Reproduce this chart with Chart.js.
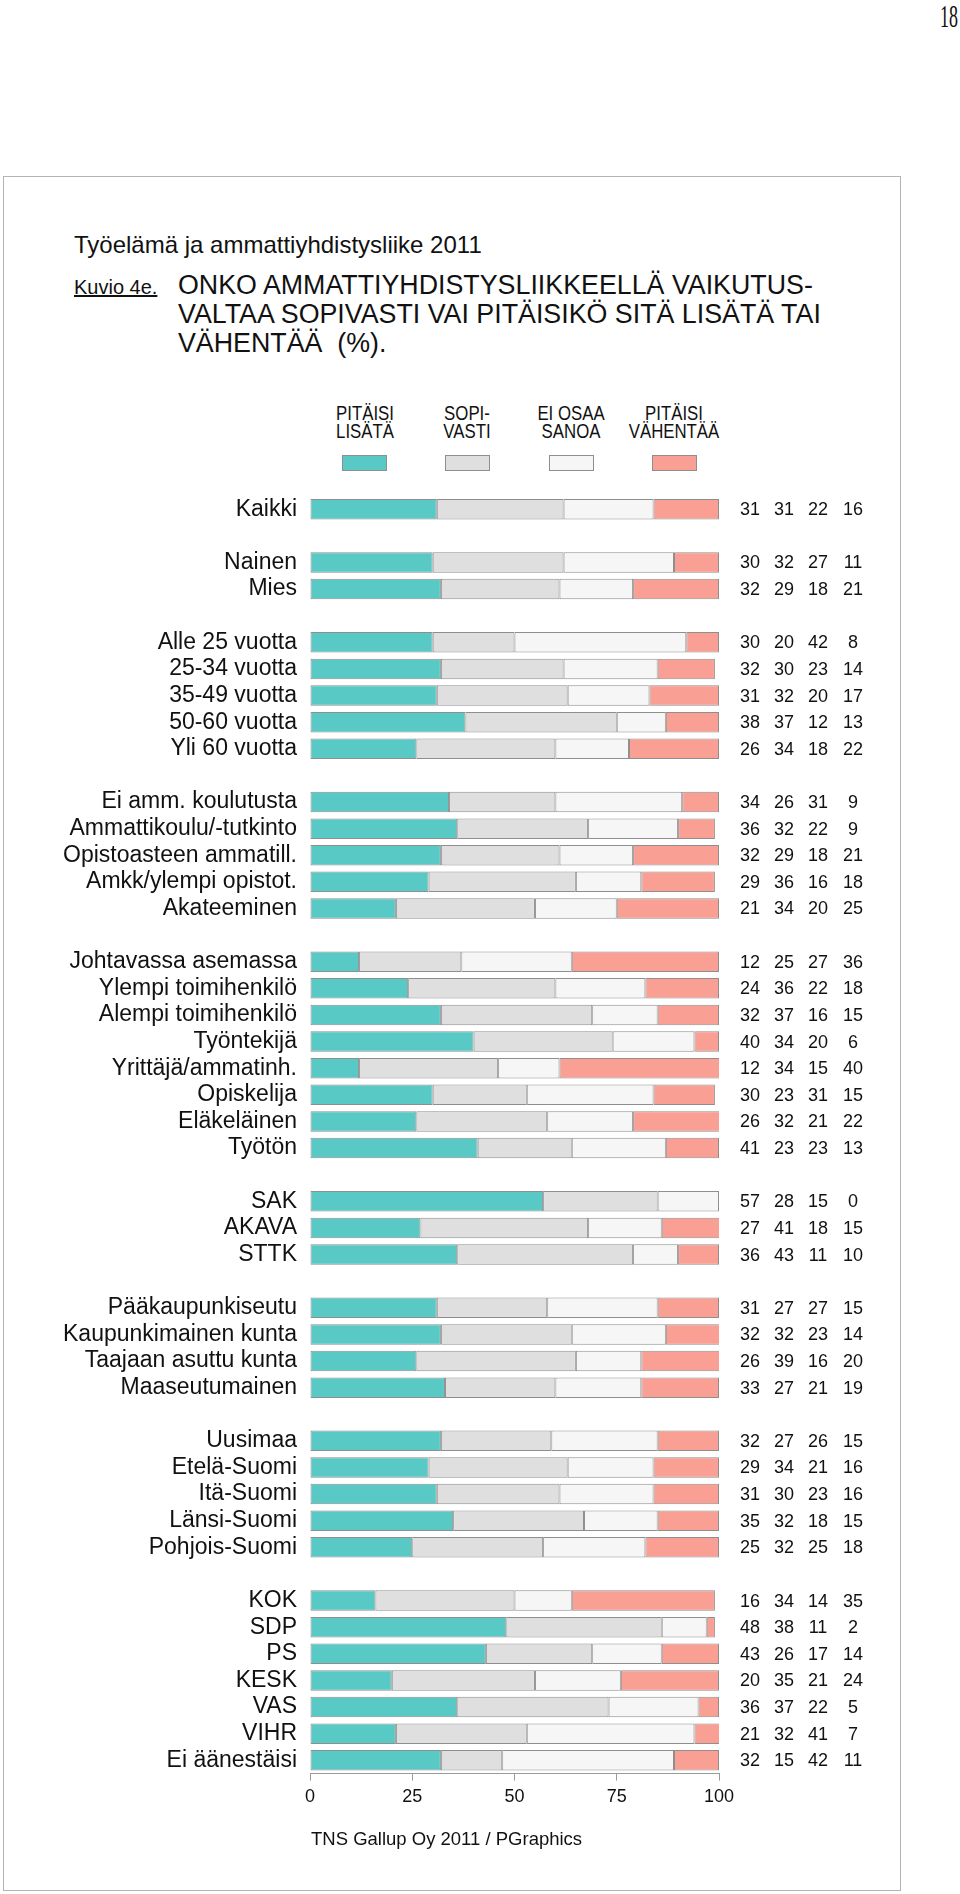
<!DOCTYPE html>
<html>
<head>
<meta charset="utf-8">
<script src="https://cdn.jsdelivr.net/npm/chart.js@4.4.1/dist/chart.umd.min.js"></script>
<style>
  html, body { margin:0; padding:0; background:#fff; }
  body { width:960px; height:1894px; position:relative; overflow:hidden;
         font-family:'Liberation Sans', Arial, Helvetica, sans-serif; color:#111; }
  .abs { position:absolute; white-space:nowrap; }
  #frame { position:absolute; left:3px; top:176px; width:896px; height:1713px; border:1px solid #b4b4b4; }
  #chartWrap { position:absolute; left:0; top:0; width:960px; height:1894px; }
  .leg { position:absolute; text-align:center; font-size:20px; line-height:18.3px; transform:scaleX(0.84); white-space:nowrap; }
  .sw { position:absolute; width:43px; height:14px; border:1px solid #8e8e8e; }
</style>
</head>
<body>
<div id="frame"></div>
<div class="abs" style="right:2px; top:1px; font-family:'Liberation Serif','Times New Roman',serif; font-size:31px; line-height:31px; transform:scaleX(0.58); transform-origin:right;">18</div>
<div class="abs" style="left:74px; top:233px; font-size:24px; line-height:23.5px;">Työelämä ja ammattiyhdistysliike 2011</div>
<div class="abs" style="left:74px; top:277px; font-size:20px; line-height:20px; text-decoration:underline;">Kuvio 4e.</div>
<div class="abs" style="left:178px; top:271px; font-size:26.8px; line-height:28.85px;">ONKO AMMATTIYHDISTYSLIIKKEELLÄ VAIKUTUS-<br>VALTAA SOPIVASTI VAI PITÄISIKÖ SITÄ LISÄTÄ TAI<br>VÄHENTÄÄ&nbsp; (%).</div>
<div id="legend"></div>
<div id="chartWrap"><canvas id="c" width="960" height="1894"></canvas></div>
<div class="abs" style="left:311px; top:1830px; font-size:18.5px; line-height:18.5px;">TNS Gallup Oy 2011 / PGraphics</div>
<script>
// ---- DATA ----
const categories = [
  'Kaikki', '',
  'Nainen', 'Mies', '',
  'Alle 25 vuotta', '25-34 vuotta', '35-49 vuotta', '50-60 vuotta', 'Yli 60 vuotta', '',
  'Ei amm. koulutusta', 'Ammattikoulu/-tutkinto', 'Opistoasteen ammatill.', 'Amkk/ylempi opistot.', 'Akateeminen', '',
  'Johtavassa asemassa', 'Ylempi toimihenkilö', 'Alempi toimihenkilö', 'Työntekijä', 'Yrittäjä/ammatinh.', 'Opiskelija', 'Eläkeläinen', 'Työtön', '',
  'SAK', 'AKAVA', 'STTK', '',
  'Pääkaupunkiseutu', 'Kaupunkimainen kunta', 'Taajaan asuttu kunta', 'Maaseutumainen', '',
  'Uusimaa', 'Etelä-Suomi', 'Itä-Suomi', 'Länsi-Suomi', 'Pohjois-Suomi', '',
  'KOK', 'SDP', 'PS', 'KESK', 'VAS', 'VIHR', 'Ei äänestäisi'
];
const pitaisiLisata = [
  31, null,
  30, 32, null,
  30, 32, 31, 38, 26, null,
  34, 36, 32, 29, 21, null,
  12, 24, 32, 40, 12, 30, 26, 41, null,
  57, 27, 36, null,
  31, 32, 26, 33, null,
  32, 29, 31, 35, 25, null,
  16, 48, 43, 20, 36, 21, 32
];
const sopivasti = [
  31, null,
  32, 29, null,
  20, 30, 32, 37, 34, null,
  26, 32, 29, 36, 34, null,
  25, 36, 37, 34, 34, 23, 32, 23, null,
  28, 41, 43, null,
  27, 32, 39, 27, null,
  27, 34, 30, 32, 32, null,
  34, 38, 26, 35, 37, 32, 15
];
const eiOsaaSanoa = [
  22, null,
  27, 18, null,
  42, 23, 20, 12, 18, null,
  31, 22, 18, 16, 20, null,
  27, 22, 16, 20, 15, 31, 21, 23, null,
  15, 18, 11, null,
  27, 23, 16, 21, null,
  26, 21, 23, 18, 25, null,
  14, 11, 17, 21, 22, 41, 42
];
const pitaisiVahentaa = [
  16, null,
  11, 21, null,
  8, 14, 17, 13, 22, null,
  9, 9, 21, 18, 25, null,
  36, 18, 15, 6, 40, 15, 22, 13, null,
  0, 15, 10, null,
  15, 14, 20, 19, null,
  15, 16, 16, 15, 18, null,
  35, 2, 14, 24, 5, 7, 11
];
const seriesNames = [['PITÄISI', 'LISÄTÄ'], ['SOPI-', 'VASTI'], ['EI OSAA', 'SANOA'], ['PITÄISI', 'VÄHENTÄÄ']];
const seriesColors = ['#58c9c5', '#dfdfdf', '#f6f6f6', '#fa9f93'];
const xTicks = [0, 25, 50, 75, 100];

// ---- LEGEND (HTML) ----
const legendCenters = [364.5, 467, 571, 674];
const legendEl = document.getElementById('legend');
seriesNames.forEach((lines, i) => {
  const t = document.createElement('div');
  t.className = 'leg';
  t.style.left = (legendCenters[i] - 60) + 'px';
  t.style.width = '120px';
  t.style.top = '403.5px';
  t.innerHTML = lines.join('<br>');
  legendEl.appendChild(t);
  const s = document.createElement('div');
  s.className = 'sw';
  s.style.left = (legendCenters[i] - 22.5) + 'px';
  s.style.top = '455px';
  s.style.background = seriesColors[i];
  legendEl.appendChild(s);
});

// ---- CHART ----
Chart.defaults.font.family = "'Liberation Sans', Arial, Helvetica, sans-serif";
Chart.defaults.color = '#111';

const allSeries = [pitaisiLisata, sopivasti, eiOsaaSanoa, pitaisiVahentaa];
const datasets = allSeries.map((arr, i) => ({
  label: seriesNames[i].join(' '),
  data: arr,
  backgroundColor: seriesColors[i],
  borderColor: '#8e8e8e',
  borderWidth: 1,
  borderSkipped: false,
  barPercentage: 0.77,
  categoryPercentage: 1.0
}));

const valueColumns = {
  id: 'valueColumns',
  afterDatasetsDraw(chart) {
    const ctx = chart.ctx;
    const y = chart.scales.y;
    const xs = [750, 784, 818, 853];
    ctx.save();
    ctx.font = "18px 'Liberation Sans', Arial, Helvetica, sans-serif";
    ctx.fillStyle = '#111';
    ctx.textAlign = 'center';
    ctx.textBaseline = 'middle';
    categories.forEach((c, i) => {
      if (!c) return;
      const py = y.getPixelForValue(i);
      allSeries.forEach((arr, k) => {
        ctx.fillText(String(arr[i]), xs[k], py + 1);
      });
    });
    ctx.restore();
  }
};

new Chart(document.getElementById('c'), {
  type: 'bar',
  data: { labels: categories, datasets },
  options: {
    indexAxis: 'y',
    responsive: false,
    animation: false,
    events: [],
    layout: { padding: { top: 495.9, left: 0, right: 241, bottom: 0 } },
    plugins: { legend: { display: false }, tooltip: { enabled: false }, title: { display: false } },
    scales: {
      x: {
        stacked: true,
        min: 0, max: 100,
        afterBuildTicks(scale) { scale.ticks = xTicks.map(v => ({ value: v })); },
        afterFit(scale) { scale.height = 1894 - 1773.6; },
        grid: { drawOnChartArea: false, drawTicks: true, tickLength: 7, color: '#9a9a9a', lineWidth: 1 },
        border: { display: true, color: '#9a9a9a', width: 1 },
        ticks: { font: { size: 18 }, color: '#111', padding: 6, maxRotation: 0 }
      },
      y: {
        stacked: true,
        afterFit(scale) { scale.width = 310; },
        grid: { display: false, drawTicks: false },
        border: { display: false },
        ticks: { font: { size: 23 }, color: '#111', padding: 13, autoSkip: false }
      }
    }
  },
  plugins: [valueColumns]
});
</script>
</body>
</html>
